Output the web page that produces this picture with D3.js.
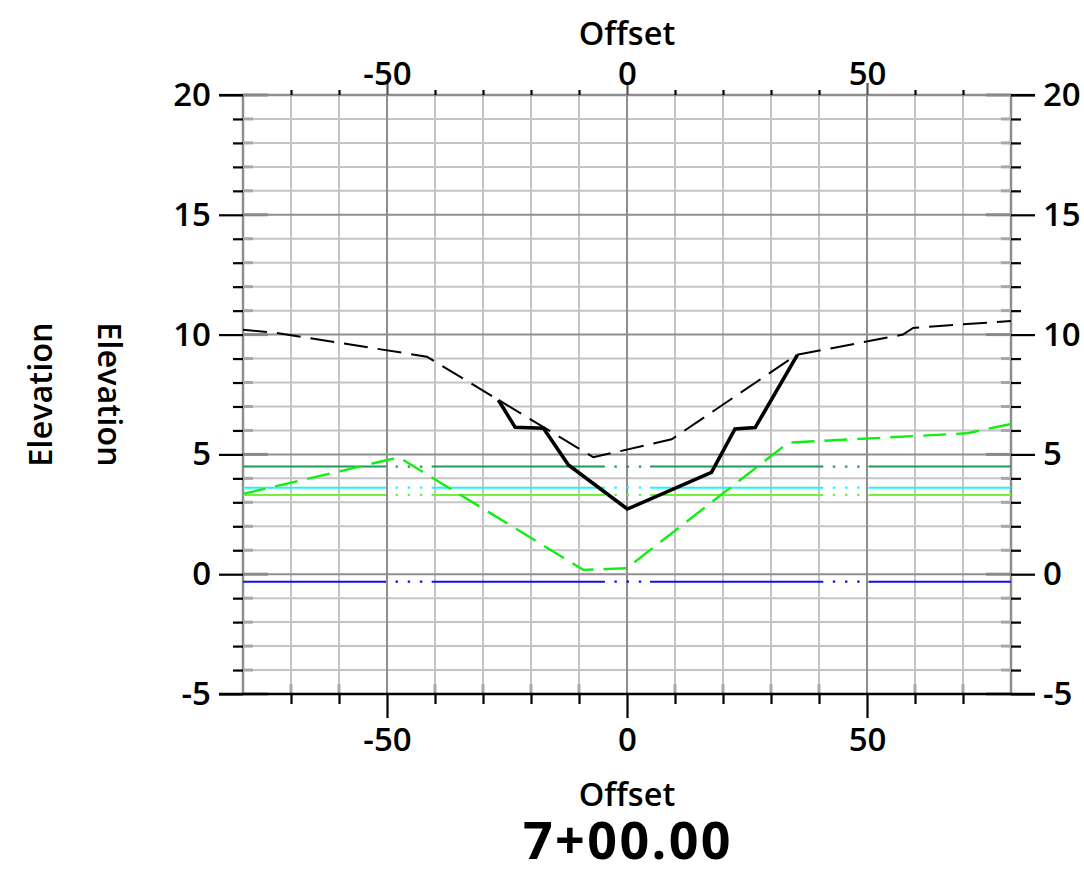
<!DOCTYPE html>
<html>
<head>
<meta charset="utf-8">
<script src="https://cdn.jsdelivr.net/npm/d3@7"></script>
<style>
  html, body { margin: 0; padding: 0; background: #fff; }
  svg { display: block; font-family: "Open Sans", "Noto Sans", sans-serif; }
</style>
</head>
<body>
<svg id="chart" width="1084" height="879"></svg>
<script>
// ---------- data ----------
const stationLabel = "7+00.00";
const xTitle = "Offset";
const yTitle = "Elevation";

const xMajorTicks = [-50, 0, 50];
const xMinorTicks = [-70, -60, -40, -30, -20, -10, 10, 20, 30, 40, 60, 70];
const yMajorTicks = [-5, 0, 5, 10, 15, 20];
const yMinorTicks = [-4, -3, -2, -1, 1, 2, 3, 4, 6, 7, 8, 9, 11, 12, 13, 14, 16, 17, 18, 19];

// existing ground (black dashed)
const groundOffset = [-80, -73, -41.7, -7, 9.3, 35.3, 57.5, 59.6, 80];
const groundElev   = [10.2, 10.07, 9.08, 4.88, 5.63, 9.15, 10.0, 10.28, 10.57];

// proposed section (black solid)
const sectionOffset = [-26.8, -23.3, -17.4, -12.2, 0.07, 17.6, 22.5, 26.7, 35.5];
const sectionElev   = [7.27, 6.13, 6.09, 4.56, 2.72, 4.25, 6.06, 6.12, 9.15];

// green dashed profile
const greenOffset = [-80, -48.3, -47.2, -9.1, -0.07, 33.6, 70.8, 80];
const greenElev   = [3.35, 4.84, 4.84, 0.18, 0.25, 5.49, 5.88, 6.27];

// horizontal levels
const levelNames = ["level1", "level2", "level3", "level4"];
const levelElev  = [4.49, 3.61, 3.31, -0.31];
// breaks in the level lines (offset ranges drawn dotted)
const breakStart = [-50.2, -4.6, 40.9];
const breakEnd   = [-40.7, 4.8, 50.3];

// ---------- styles ----------
const levelColors = ["#1f9a5c", "#22f4f4", "#72f03a", "#1010e8"];
const minorGrid = "#c4c4c4";
const majorGrid = "#8e8e8e";

// ---------- layout ----------
const svg = d3.select("#chart");
const x = d3.scaleLinear().domain([-80, 80]).range([243, 1011]);
const y = d3.scaleLinear().domain([-5, 20]).range([694, 95]);
const [x0, x1] = x.range();
const [y0, y1] = y.range(); // y0 bottom, y1 top

// ---------- grid ----------
const grid = svg.append("g");
grid.selectAll("line.vmin").data(xMinorTicks).join("line")
  .attr("x1", d => x(d)).attr("x2", d => x(d)).attr("y1", y1).attr("y2", y0)
  .attr("stroke", minorGrid).attr("stroke-width", 2);
grid.selectAll("line.hmin").data(yMinorTicks).join("line").attr("class", "hmin")
  .attr("x1", x0).attr("x2", x1).attr("y1", d => y(d)).attr("y2", d => y(d))
  .attr("stroke", minorGrid).attr("stroke-width", 2);
grid.selectAll("line.vmaj").data(xMajorTicks).join("line").attr("class", "vmaj")
  .attr("x1", d => x(d)).attr("x2", d => x(d)).attr("y1", y1).attr("y2", y0)
  .attr("stroke", majorGrid).attr("stroke-width", 2);
grid.selectAll("line.hmaj").data(yMajorTicks).join("line").attr("class", "hmaj")
  .attr("x1", x0).attr("x2", x1).attr("y1", d => y(d)).attr("y2", d => y(d))
  .attr("stroke", majorGrid).attr("stroke-width", 2);
// frame
grid.append("line").attr("x1", x0).attr("x2", x0).attr("y1", y1).attr("y2", y0).attr("stroke", majorGrid).attr("stroke-width", 2.5);
grid.append("line").attr("x1", x1).attr("x2", x1).attr("y1", y1).attr("y2", y0).attr("stroke", majorGrid).attr("stroke-width", 2.5);
grid.append("line").attr("x1", x0).attr("x2", x1).attr("y1", y1).attr("y2", y1).attr("stroke", majorGrid).attr("stroke-width", 2.5);

// inner gray ticks
const inner = svg.append("g").attr("stroke", "#8a8a8a").attr("stroke-width", 3);
yMajorTicks.forEach(v => {
  inner.append("line").attr("x1", x0).attr("x2", x0 + 25).attr("y1", y(v)).attr("y2", y(v));
  inner.append("line").attr("x1", x1 - 25).attr("x2", x1).attr("y1", y(v)).attr("y2", y(v));
});
yMinorTicks.forEach(v => {
  inner.append("line").attr("x1", x0).attr("x2", x0 + 10).attr("y1", y(v)).attr("y2", y(v)).attr("stroke", "#a8a8a8");
  inner.append("line").attr("x1", x1 - 10).attr("x2", x1).attr("y1", y(v)).attr("y2", y(v)).attr("stroke", "#a8a8a8");
});
xMinorTicks.forEach(v => {
  inner.append("line").attr("x1", x(v)).attr("x2", x(v)).attr("y1", y0).attr("y2", y0 - 10).attr("stroke", "#a8a8a8");
});

// ---------- horizontal levels ----------
const lv = svg.append("g");
levelElev.forEach((e, i) => {
  const segStarts = [-80].concat(breakEnd);
  const segEnds = breakStart.concat([80]);
  segStarts.forEach((s, k) => {
    lv.append("line").attr("x1", x(s)).attr("x2", x(segEnds[k]))
      .attr("y1", y(e)).attr("y2", y(e))
      .attr("stroke", levelColors[i]).attr("stroke-width", 2);
  });
  breakStart.forEach((s, k) => {
    lv.append("line").attr("x1", x(s)).attr("x2", x(breakEnd[k]))
      .attr("y1", y(e)).attr("y2", y(e))
      .attr("stroke", levelColors[i]).attr("stroke-width", 2.2)
      .attr("stroke-dasharray", "2.4,9.8").attr("stroke-dashoffset", 2.7);
  });
});

const line = d3.line().x(d => x(d[0])).y(d => y(d[1]));

// green dashed
svg.append("path").datum(d3.zip(greenOffset, greenElev))
  .attr("d", line).attr("fill", "none").attr("stroke", "#11ee11")
  .attr("stroke-width", 2.4).attr("stroke-dasharray", "23,10");

// black dashed ground
svg.append("path").datum(d3.zip(groundOffset, groundElev))
  .attr("d", line).attr("fill", "none").attr("stroke", "#000")
  .attr("stroke-width", 2).attr("stroke-dasharray", "24,10");

// black solid section
svg.append("path").datum(d3.zip(sectionOffset, sectionElev))
  .attr("d", line).attr("fill", "none").attr("stroke", "#000")
  .attr("stroke-width", 3.6).attr("stroke-linejoin", "miter");

// ---------- axes ----------
const fmt = d => String(d); // plain hyphen-minus like the reference
const labelFont = 33;
function styleAxis(g, color) {
  g.select(".domain").remove();
  g.selectAll(".tick line").attr("stroke", color || "#000").attr("stroke-width", 2.2);
  g.selectAll(".tick text").attr("fill", "#000")
    .style("font-size", labelFont + "px").style("font-weight", 600)
    .style("font-family", '"Open Sans", sans-serif');
}
// left
svg.append("g").attr("transform", `translate(${x0},0)`)
  .call(d3.axisLeft(y).tickValues(yMajorTicks).tickSize(24).tickPadding(8).tickFormat(fmt))
  .call(g => styleAxis(g));
svg.append("g").attr("transform", `translate(${x0},0)`)
  .call(d3.axisLeft(y).tickValues(yMinorTicks).tickSize(10).tickFormat(""))
  .call(g => styleAxis(g));
// right
svg.append("g").attr("transform", `translate(${x1},0)`)
  .call(d3.axisRight(y).tickValues(yMajorTicks).tickSize(24).tickPadding(8).tickFormat(fmt))
  .call(g => styleAxis(g));
svg.append("g").attr("transform", `translate(${x1},0)`)
  .call(d3.axisRight(y).tickValues(yMinorTicks).tickSize(10).tickFormat(""))
  .call(g => styleAxis(g));
// bottom
svg.append("g").attr("transform", `translate(0,${y0})`)
  .call(d3.axisBottom(x).tickValues(xMajorTicks).tickSize(24).tickPadding(10).tickFormat(fmt))
  .call(g => styleAxis(g));
svg.append("g").attr("transform", `translate(0,${y0})`)
  .call(d3.axisBottom(x).tickValues(xMinorTicks).tickSize(10).tickFormat(""))
  .call(g => styleAxis(g));
svg.append("line").attr("x1", x0 - 24).attr("x2", x1 + 24).attr("y1", y0).attr("y2", y0)
  .attr("stroke", "#000").attr("stroke-width", 2.5);
// top
svg.append("g").attr("transform", `translate(0,${y1})`)
  .call(d3.axisTop(x).tickValues(xMajorTicks).tickSize(12).tickPadding(-2).tickFormat(fmt))
  .call(g => styleAxis(g, "#555"));
svg.append("g").attr("transform", `translate(0,${y1})`)
  .call(d3.axisTop(x).tickValues(xMinorTicks).tickSize(5).tickFormat(""))
  .call(g => styleAxis(g));
svg.append("line").attr("x1", x0 - 24).attr("x2", x0).attr("y1", y1).attr("y2", y1).attr("stroke", "#000").attr("stroke-width", 2.2);
svg.append("line").attr("x1", x1).attr("x2", x1 + 24).attr("y1", y1).attr("y2", y1).attr("stroke", "#000").attr("stroke-width", 2.2);

// ---------- titles ----------
const cx = (x0 + x1) / 2;
const cy = (y0 + y1) / 2;
const tStyle = s => s.attr("fill", "#000").style("font-size", "32.5px").style("font-weight", 600);
svg.append("text").attr("x", cx).attr("y", 45).attr("text-anchor", "middle").text(xTitle).call(tStyle);
svg.append("text").attr("x", cx).attr("y", 806).attr("text-anchor", "middle").text(xTitle).call(tStyle);
svg.append("text").attr("transform", `translate(52,${cy}) rotate(-90)`).attr("text-anchor", "middle").text(yTitle).call(tStyle);
svg.append("text").attr("transform", `translate(98,${cy}) rotate(90)`).attr("text-anchor", "middle").text(yTitle).call(tStyle);
svg.append("text").attr("x", cx + 1).attr("y", 859).attr("text-anchor", "middle")
  .attr("fill", "#000").style("font-size", "52px").style("font-weight", 700)
  .style("letter-spacing", "2.4px").text(stationLabel);
</script>
</body>
</html>
